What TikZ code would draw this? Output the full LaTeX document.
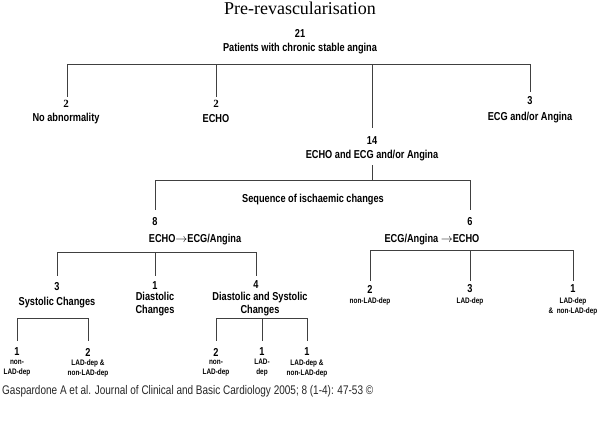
\documentclass[tikz,border=0pt]{standalone}
\usepackage{fontspec}
\setmainfont{Liberation Sans}[FakeStretch=0.8]
\newfontfamily\titlefont{Liberation Serif}
\begin{document}
\begin{tikzpicture}[x=1pt,y=-1pt,
  lbl/.style={font=\fontsize{11.5}{12.5}\selectfont\bfseries,inner sep=0pt,align=center},
  sml/.style={font=\fontsize{8}{10}\selectfont\bfseries,inner sep=0pt,align=center},
  ln/.style={line width=0.9pt,black!75}]
\useasboundingbox (0,0) rectangle (600,440);
\node[inner sep=0pt,font=\titlefont\fontsize{18}{20}\selectfont] (title) at (300,8) {Pre-revascularisation};
\node[lbl] (n21) at (300,33) {21};
\node[lbl] (root) at (300,49) {Patients with chronic stable angina};
% level 1
\coordinate (b1) at (67,64); \coordinate (b2) at (216,64); \coordinate (b3) at (372,64); \coordinate (b4) at (530,64);
\coordinate (e1) at (67,97); \coordinate (e2) at (216,97); \coordinate (e3) at (372,128); \coordinate (e4) at (530,92);
\draw[ln] (b1)--(b4);
\draw[ln] (b1)--(e1) (b2)--(e2) (b3)--(e3) (b4)--(e4);
\node[lbl,font=\titlefont\fontsize{11}{12}\selectfont\bfseries] (a2) at (66,104) {2};
\node[lbl] (a) at (66,119) {No abnormality};
\node[lbl,font=\titlefont\fontsize{11}{12}\selectfont\bfseries] (b2n) at (216,104) {2};
\node[lbl] (b) at (216,119) {ECHO};
\node[lbl] (c3) at (530,101) {3};
\node[lbl] (c) at (530,118) {ECG and/or Angina};
\node[lbl] (d14) at (372,141) {14};
\node[lbl] (d) at (372,156) {ECHO and ECG and/or Angina};
% level 2
\coordinate (s0) at (372,165); \coordinate (s1) at (372,180);
\coordinate (l0) at (155,180); \coordinate (r0) at (470,180);
\coordinate (l1) at (155,210); \coordinate (r1) at (470,210);
\draw[ln] (s0)--(s1) (l0)--(r0) (l0)--(l1) (r0)--(r1);
\node[lbl] (seq) at (313,200) {Sequence of ischaemic changes};
\node[lbl] (e8) at (155,222) {8};
\node[lbl] (e) at (195,240) {ECHO$\to$ECG/Angina};
\node[lbl] (f6) at (470,222) {6};
\node[lbl] (f) at (432,240) {ECG/Angina $\to$ECHO};
% left subtree
\coordinate (la) at (57,252); \coordinate (lb) at (155,252); \coordinate (lc) at (256,252);
\coordinate (la2) at (57,276); \coordinate (lb2) at (155,276); \coordinate (lc2) at (256,276);
\draw[ln] (la)--(lc) (la)--(la2) (lb)--(lb2) (lc)--(lc2);
\node[lbl] (g3) at (57,287) {3};
\node[lbl] (g) at (57,303) {Systolic Changes};
\node[lbl] (h1) at (155,286) {1};
\node[lbl] (h) at (155,304) {Diastolic\\Changes};
\node[lbl] (i4) at (256,285) {4};
\node[lbl] (i) at (260,304) {Diastolic and Systolic\\Changes};
% right subtree
\coordinate (ra) at (370,250); \coordinate (rb) at (470,250); \coordinate (rc) at (573,250);
\coordinate (ra2) at (370,281); \coordinate (rb2) at (470,281); \coordinate (rc2) at (573,281);
\draw[ln] (ra)--(rc) (ra)--(ra2) (rb)--(rb2) (rc)--(rc2);
\node[lbl] (j2) at (370,289) {2};
\node[sml] (j) at (370,301) {non-LAD-dep};
\node[lbl] (k3) at (470,289) {3};
\node[sml] (k) at (470,301) {LAD-dep};
\node[lbl] (m1) at (573,289) {1};
\node[sml] (m) at (573,306) {LAD-dep\\\& \ non-LAD-dep};
% systolic sub
\coordinate (sa) at (17,318); \coordinate (sb) at (88,318);
\coordinate (sa2) at (17,341); \coordinate (sb2) at (88,341);
\draw[ln] (sa)--(sb) (sa)--(sa2) (sb)--(sb2);
\node[lbl] (p1) at (17,352) {1};
\node[sml] (p) at (17,368) {non-\\LAD-dep};
\node[lbl] (q2) at (88,352) {2};
\node[sml] (q) at (88,368) {LAD-dep \&\\non-LAD-dep};
% D&S sub
\coordinate (ta) at (216,318); \coordinate (tb) at (262,318); \coordinate (tc) at (307,318);
\coordinate (ta2) at (216,341); \coordinate (tb2) at (262,341); \coordinate (tc2) at (307,341);
\draw[ln] (ta)--(tc) (ta)--(ta2) (tb)--(tb2) (tc)--(tc2);
\node[lbl] (u2) at (216,352) {2};
\node[sml] (u) at (216,368) {non-\\LAD-dep};
\node[lbl] (v1) at (262,352) {1};
\node[sml] (v) at (262,368) {LAD-\\dep};
\node[lbl] (w1) at (307,352) {1};
\node[sml] (w) at (307,368) {LAD-dep \&\\non-LAD-dep};
\node[anchor=west,inner sep=0pt,font=\fontsize{12.5}{14}\selectfont,black!85] (foot) at (2,391) {Gaspardone A et al. Journal of Clinical and Basic Cardiology 2005; 8 (1-4): 47-53 ©};
\end{tikzpicture}
\end{document}
